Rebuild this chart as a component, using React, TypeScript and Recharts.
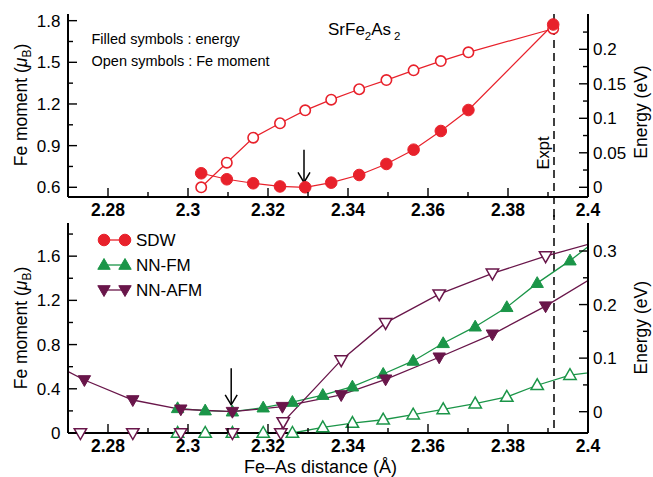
import React from 'react'
import { LineChart, Line, XAxis, YAxis, ReferenceLine, Legend } from 'recharts'

const FONT = '"Liberation Sans", Arial, Helvetica, sans-serif'
const RED = '#e8212b'
const GREEN = '#1b9548'
const PURPLE = '#69164a'
const AXIS = { stroke: '#000', strokeWidth: 2 }

// Fe–As distance axis (Å), shared by both panels
const distDomain = [2.27, 2.4]
const distMajor = [2.28, 2.3, 2.32, 2.34, 2.36, 2.38, 2.4]
const distMinor = [2.29, 2.31, 2.33, 2.35, 2.37, 2.39]
const exptDist = 2.3915

// top panel: SrFe2As2, SDW order
const topMomentDomain = [0.53, 1.848]
const topMomentMajor = [0.6, 0.9, 1.2, 1.5, 1.8]
const topMomentMinor = [0.75, 1.05, 1.35, 1.65]
const topEnergyDomain = [-0.0141, 0.2512]
const topEnergyMajor = [0, 0.05, 0.1, 0.15, 0.2]
const topEnergyMinor = [0.025, 0.075, 0.125, 0.175, 0.225]

const sdwDist = [2.3033, 2.3097, 2.3163, 2.323, 2.3293, 2.3358, 2.3428, 2.3496, 2.3564, 2.3632, 2.3701, 2.3913]
const sdwMoment = [0.6, 0.777, 0.957, 1.061, 1.154, 1.231, 1.306, 1.372, 1.442, 1.509, 1.572, 1.742]
const sdwEnergy = [0.0203, 0.0116, 0.0058, 0.0012, 0, 0.0067, 0.0178, 0.0338, 0.0545, 0.0816, 0.112, 0.236]

// bottom panel: NN-FM and NN-AFM
const botMomentDomain = [0, 1.9]
const botMomentMajor = [0, 0.4, 0.8, 1.2, 1.6]
const botMomentMinor = [0.2, 0.6, 1.0, 1.4, 1.8]
const botEnergyDomain = [-0.0398, 0.3523]
const botEnergyMajor = [0, 0.1, 0.2, 0.3]
const botEnergyMinor = [0.05, 0.15, 0.25]

const fmDist = [2.2974, 2.3043, 2.3111, 2.3188, 2.3261, 2.3337, 2.3411, 2.3488, 2.3563, 2.3638, 2.3718, 2.3797, 2.3873, 2.3955, 2.4035]
const fmEnergy = [0.0063, 0.002, 0, 0.0075, 0.018, 0.031, 0.0467, 0.0704, 0.0947, 0.1277, 0.1587, 0.195, 0.24, 0.282, 0.328]
const fmMoment = [0, 0, 0, 0, 0, 0.05, 0.09, 0.12, 0.166, 0.214, 0.266, 0.326, 0.432, 0.523, 0.56]

const afmDist = [2.2615, 2.2741, 2.2862, 2.2982, 2.3111, 2.3236, 2.3383, 2.3494, 2.3628, 2.3761, 2.3894, 2.4027]
const afmEnergy = [0.108, 0.0592, 0.0218, 0.0045, 0, 0.0093, 0.0312, 0.0605, 0.1016, 0.1445, 0.197, 0.257]
const afmMomentDist = [2.2731, 2.2862, 2.2982, 2.3111, 2.3232, 2.3238, 2.3383, 2.3494, 2.3628, 2.3761, 2.3894, 2.4027]
const afmMoment = [0, 0, 0, 0, 0, 0.1, 0.659, 0.996, 1.256, 1.444, 1.6, 1.733]

const legendNames = ['SDW', 'NN-FM', 'NN-AFM']
const legendColors = [RED, GREEN, PURPLE]
const legendShapes = ['circle', 'up', 'down']

type Pt = { d: number; v: number }
const pts = (xs: number[], ys: number[]): Pt[] => xs.map((d, i) => ({ d, v: ys[i] }))
const inside = (p: Pt) => p.d >= distDomain[0] && p.d <= distDomain[1]
// first point of the zero run that the line leaves from
const lineStart = (ys: number[]) => Math.max(0, ys.findIndex((v) => v > 0) - 1)

function Marker({ cx, cy, shape, color, open }: any) {
  if (cx == null || cy == null) return null
  const fill = open ? '#fff' : color
  if (shape === 'circle') {
    return <circle cx={cx} cy={cy} r={open ? 5.2 : 5.8} fill={fill} stroke={color} strokeWidth={open ? 1.6 : 1} />
  }
  const s = shape === 'up' ? -1 : 1
  const w = 6.2
  const p = `${cx},${cy + s * 6.5} ${cx - w},${cy - s * 4.3} ${cx + w},${cy - s * 4.3}`
  return <polygon points={p} fill={fill} stroke={color} strokeWidth={open ? 1.5 : 1} />
}

const dotOf = (shape: string, color: string, open: boolean) => (p: any) => (
  <Marker key={`m-${p.index}`} cx={p.cx} cy={p.cy} shape={shape} color={color} open={open} />
)

function AxisTick(props: any) {
  const { x, y, payload, side, majors, gap, weight, size } = props
  const v = payload.value
  const major = majors.some((m: number) => Math.abs(m - v) < 1e-9)
  const len = major ? 9 : 5
  const txt = { fontSize: size || 17, fontFamily: FONT, fill: '#000', fontWeight: weight || 'normal' }
  if (side === 'bottom') {
    const ay = y - gap
    return (
      <g>
        <line x1={x} x2={x} y1={ay} y2={ay - len} stroke="#000" strokeWidth={1.4} />
        {major && <text x={x} y={y} dy="0.71em" textAnchor="middle" {...txt}>{v}</text>}
      </g>
    )
  }
  const dir = side === 'left' ? 1 : -1
  const ax = x + dir * gap
  return (
    <g>
      <line x1={ax} x2={ax + dir * len} y1={y} y2={y} stroke="#000" strokeWidth={1.4} />
      {major && (
        <text x={x} y={y} dy="0.36em" textAnchor={side === 'left' ? 'end' : 'start'} {...txt}>{v}</text>
      )}
    </g>
  )
}

function Arrow(props: any) {
  const { x1, y1, x2, y2 } = props
  return (
    <g>
      <line x1={x1} y1={y1} x2={x2} y2={y2} stroke="#000" strokeWidth={1.5} />
      <polyline points={`${x2 - 6},${y2 - 10} ${x2},${y2} ${x2 + 6},${y2 - 10}`} fill="none" stroke="#000" strokeWidth={1.5} />
    </g>
  )
}

const xTick = (p: any) => <AxisTick {...p} side="bottom" majors={distMajor} gap={7} weight="bold" size={17.5} />

function MomentTitle({ x, y }: { x: number; y: number }) {
  return (
    <text transform={`translate(${x},${y}) rotate(-90)`} textAnchor="middle" fontSize={17.5} fontFamily={FONT}>
      Fe moment (<tspan fontStyle="italic">μ</tspan>
      <tspan fontSize={12} dy={4}>B</tspan>
      <tspan dy={-4}>)</tspan>
    </text>
  )
}

function EnergyTitle({ x, y }: { x: number; y: number }) {
  return (
    <text transform={`translate(${x},${y}) rotate(-90)`} textAnchor="middle" fontSize={17.5} fontFamily={FONT}>
      Energy (eV)
    </text>
  )
}

function LegendBox() {
  return (
    <svg width={140} height={76} style={{ display: 'block' }}>
      {legendNames.map((name, i) => {
        const y = 12 + i * 25
        return (
          <g key={name}>
            <line x1={12} x2={33} y1={y} y2={y} stroke={legendColors[i]} strokeWidth={1.3} />
            <Marker cx={12} cy={y} shape={legendShapes[i]} color={legendColors[i]} open={false} />
            <Marker cx={33} cy={y} shape={legendShapes[i]} color={legendColors[i]} open={false} />
            <text x={44} y={y} dy="0.36em" fontSize={17} fontFamily={FONT}>{name}</text>
          </g>
        )
      })}
    </svg>
  )
}

function TopPanel() {
  return (
    <LineChart width={653} height={222} margin={{ top: 14, right: 0, bottom: 0, left: 0 }}>
      <XAxis xAxisId="x" dataKey="d" type="number" domain={distDomain} ticks={[...distMajor, ...distMinor]}
        interval={0} height={25} tickSize={0} tickMargin={7} tickLine={false} axisLine={AXIS} tick={xTick} />
      <XAxis xAxisId="frame" orientation="top" type="number" domain={distDomain} height={0}
        tick={false} tickLine={false} axisLine={AXIS} />
      <YAxis yAxisId="m" type="number" domain={topMomentDomain} ticks={[...topMomentMajor, ...topMomentMinor]}
        interval={0} width={68} tickSize={0} tickMargin={7.5} tickLine={false} axisLine={AXIS}
        tick={(p: any) => <AxisTick {...p} side="left" majors={topMomentMajor} gap={7.5} />} />
      <YAxis yAxisId="e" orientation="right" type="number" domain={topEnergyDomain}
        ticks={[...topEnergyMajor, ...topEnergyMinor]} interval={0} width={65} tickSize={0} tickMargin={5}
        tickLine={false} axisLine={AXIS}
        tick={(p: any) => <AxisTick {...p} side="right" majors={topEnergyMajor} gap={5} />} />

      <ReferenceLine xAxisId="x" yAxisId="m" ifOverflow="visible" stroke="#000" strokeWidth={1.5} strokeDasharray="8 5"
        segment={[{ x: exptDist, y: topMomentDomain[1] }, { x: exptDist, y: 0.3 }]} />
      <ReferenceLine xAxisId="x" yAxisId="m" ifOverflow="visible"
        segment={[{ x: 2.329, y: 0.87 }, { x: 2.329, y: 0.635 }]} shape={(p: any) => <Arrow {...p} />} />

      <Line xAxisId="x" yAxisId="m" data={pts(sdwDist, sdwMoment)} dataKey="v" type="linear" stroke={RED}
        strokeWidth={1.2} dot={dotOf('circle', RED, true)} activeDot={false} isAnimationActive={false} />
      <Line xAxisId="x" yAxisId="e" data={pts(sdwDist, sdwEnergy)} dataKey="v" type="linear" stroke={RED}
        strokeWidth={1.2} dot={dotOf('circle', RED, false)} activeDot={false} isAnimationActive={false} />

      <text x={91.5} y={44} fontSize={14.5} fontFamily={FONT}>Filled symbols : energy</text>
      <text x={91.5} y={66} fontSize={14.5} fontFamily={FONT}>Open symbols : Fe moment</text>
      <text x={328} y={35} fontSize={17} fontFamily={FONT}>
        SrFe<tspan fontSize={11.5} dy={5}>2</tspan>
        <tspan dy={-5}>As</tspan>
        <tspan fontSize={11.5} dx={3} dy={5}>2</tspan>
      </text>
      <text transform="translate(548.5,153) rotate(-90)" textAnchor="middle" fontSize={16.5} fontFamily={FONT}>Expt</text>
      <MomentTitle x={26.5} y={105} />
      <EnergyTitle x={647} y={112} />
    </LineChart>
  )
}

function BottomPanel() {
  const fmE = pts(fmDist, fmEnergy)
  const fmM = pts(fmDist, fmMoment)
  const afE = pts(afmDist, afmEnergy)
  const afM = pts(afmMomentDist, afmMoment)
  return (
    <LineChart width={653} height={262} margin={{ top: 8, right: 0, bottom: 0, left: 0 }}>
      <XAxis xAxisId="x" dataKey="d" type="number" domain={distDomain} allowDataOverflow ticks={[...distMajor, ...distMinor]}
        interval={0} height={44} tickSize={0} tickMargin={7} tickLine={false} axisLine={AXIS} tick={xTick} />
      <XAxis xAxisId="xm" dataKey="d" type="number" domain={distDomain} hide />
      <XAxis xAxisId="frame" orientation="top" type="number" domain={distDomain} height={0}
        tick={false} tickLine={false} axisLine={AXIS} />
      <YAxis yAxisId="m" type="number" domain={botMomentDomain} ticks={[...botMomentMajor, ...botMomentMinor]}
        interval={0} width={68} tickSize={0} tickMargin={7.5} tickLine={false} axisLine={AXIS}
        tick={(p: any) => <AxisTick {...p} side="left" majors={botMomentMajor} gap={7.5} />} />
      <YAxis yAxisId="e" orientation="right" type="number" domain={botEnergyDomain}
        ticks={[...botEnergyMajor, ...botEnergyMinor]} interval={0} width={65} tickSize={0} tickMargin={5}
        tickLine={false} axisLine={AXIS}
        tick={(p: any) => <AxisTick {...p} side="right" majors={botEnergyMajor} gap={5} />} />

      <ReferenceLine xAxisId="x" yAxisId="m" ifOverflow="visible" stroke="#000" strokeWidth={1.5} strokeDasharray="8 5"
        segment={[{ x: exptDist, y: 2.0 }, { x: exptDist, y: 0 }]} />
      <ReferenceLine xAxisId="x" yAxisId="m" ifOverflow="visible"
        segment={[{ x: 2.3108, y: 0.585 }, { x: 2.3108, y: 0.255 }]} shape={(p: any) => <Arrow {...p} />} />

      <Line xAxisId="x" yAxisId="e" data={fmE} dataKey="v" stroke={GREEN} strokeWidth={1.3} dot={false} activeDot={false} isAnimationActive={false} />
      <Line xAxisId="x" yAxisId="m" data={fmM.slice(lineStart(fmMoment))} dataKey="v" stroke={GREEN} strokeWidth={1.3} dot={false} activeDot={false} isAnimationActive={false} />
      <Line xAxisId="x" yAxisId="e" data={afE} dataKey="v" stroke={PURPLE} strokeWidth={1.3} dot={false} activeDot={false} isAnimationActive={false} />
      <Line xAxisId="x" yAxisId="m" data={afM.slice(lineStart(afmMoment))} dataKey="v" stroke={PURPLE} strokeWidth={1.3} dot={false} activeDot={false} isAnimationActive={false} />

      <Line xAxisId="xm" yAxisId="e" data={fmE.filter(inside)} dataKey="v" stroke="none" dot={dotOf('up', GREEN, false)} activeDot={false} isAnimationActive={false} />
      <Line xAxisId="xm" yAxisId="m" data={fmM.filter(inside)} dataKey="v" stroke="none" dot={dotOf('up', GREEN, true)} activeDot={false} isAnimationActive={false} />
      <Line xAxisId="xm" yAxisId="e" data={afE.filter(inside)} dataKey="v" stroke="none" dot={dotOf('down', PURPLE, false)} activeDot={false} isAnimationActive={false} />
      <Line xAxisId="xm" yAxisId="m" data={afM.filter(inside)} dataKey="v" stroke="none" dot={dotOf('down', PURPLE, true)} activeDot={false} isAnimationActive={false} />

      <Legend layout="vertical" align="center" verticalAlign="middle" content={() => <LegendBox />}
        wrapperStyle={{ left: 92, top: 13, width: 'auto', height: 'auto' }} />

      <MomentTitle x={26.5} y={113} />
      <EnergyTitle x={647} y={112.7} />
      <text x={320.5} y={258} textAnchor="middle" fontSize={18} fontFamily={FONT}>Fe–As distance (Å)</text>
    </LineChart>
  )
}

export default function App() {
  return (
    <div style={{ position: 'absolute', left: 0, top: 0, width: 653, height: 477, background: '#fff' }}>
      <div style={{ position: 'absolute', left: 0, top: 0 }}>
        <TopPanel />
      </div>
      <div style={{ position: 'absolute', left: 0, top: 215 }}>
        <BottomPanel />
      </div>
    </div>
  )
}
